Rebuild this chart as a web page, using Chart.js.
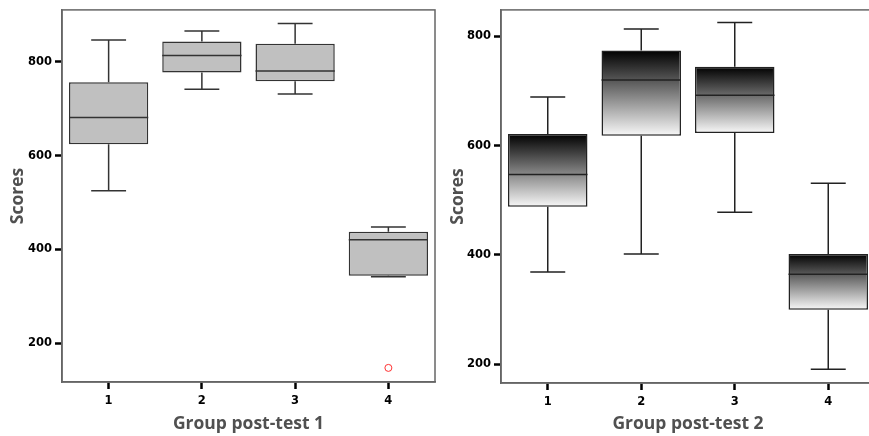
<!DOCTYPE html>
<html>
<head>
<meta charset="utf-8">
<script src="https://cdn.jsdelivr.net/npm/chart.js@4"></script>
<style>
body { margin: 0; background: #fff; width: 869px; height: 436px; overflow: hidden; position: relative; }
#chart1 { position: absolute; left: 0; top: 0; }
#rightWrap { position: absolute; left: 440px; top: 0; width: 429px; height: 436px; overflow: hidden; }
</style>
</head>
<body>
<canvas id="chart1" width="440" height="436"></canvas>
<div id="rightWrap"><canvas id="chart2" width="440" height="436"></canvas></div>
<script>
// Categorías y ticks
const grupos = ['1', '2', '3', '4'];
const yTicks = [200, 400, 600, 800];

// Post-test 1 (min, Q1, mediana, Q3, max)
const min1 = [525, 741, 731, 342];
const q1_1 = [624, 777, 758, 344];
const med1 = [681, 813, 780, 421];
const q3_1 = [756, 843, 838, 438];
const max1 = [846, 865, 881, 448];
const atipicos1 = [null, null, null, 148];

// Post-test 2
const min2 = [369, 402, 478, 191];
const q1_2 = [488, 618, 623, 300];
const med2 = [547, 720, 692, 365];
const q3_2 = [621, 774, 744, 402];
const max2 = [689, 813, 825, 531];
const atipicos2 = [null, null, null, null];

// Bigotes, medianas y marco del área
const bigotes = {
    id: 'bigotes',
    afterDatasetsDraw(chart, args, opts) {
        const { ctx } = chart;
        const y = chart.scales.y;
        const meta = chart.getDatasetMeta(0);
        ctx.save();
        ctx.strokeStyle = opts.color;
        ctx.lineWidth = opts.width;
        meta.data.forEach((bar, i) => {
            const x = bar.x, w = bar.width, cap = w * 0.44;
            const yMin = y.getPixelForValue(opts.min[i]);
            const yQ1 = y.getPixelForValue(opts.q1[i]);
            const yMed = y.getPixelForValue(opts.med[i]);
            const yQ3 = y.getPixelForValue(opts.q3[i]);
            const yMax = y.getPixelForValue(opts.max[i]);
            ctx.beginPath();
            ctx.moveTo(x, yQ3); ctx.lineTo(x, yMax);
            ctx.moveTo(x - cap / 2, yMax); ctx.lineTo(x + cap / 2, yMax);
            ctx.moveTo(x, yQ1); ctx.lineTo(x, yMin);
            ctx.moveTo(x - cap / 2, yMin); ctx.lineTo(x + cap / 2, yMin);
            ctx.moveTo(x - w / 2, yMed); ctx.lineTo(x + w / 2, yMed);
            ctx.stroke();
        });
        const a = chart.chartArea;
        ctx.strokeStyle = '#666';
        ctx.lineWidth = 1.5;
        ctx.strokeRect(a.left, a.top, a.right - a.left, a.bottom - a.top);
        ctx.restore();
    }
};

function crearGrafico(id, cfg) {
    const ctx = document.getElementById(id);
    new Chart(ctx.getContext('2d'), {
        data: {
            labels: grupos,
            datasets: [{
                type: 'bar',
                data: cfg.q1.map((v, i) => [v, cfg.q3[i]]),
                backgroundColor: cfg.relleno,
                borderColor: cfg.linea,
                borderWidth: 1.5,
                borderSkipped: false,
                barPercentage: 0.85,
                categoryPercentage: 1
            }, {
                type: 'line',
                data: cfg.atipicos,
                showLine: false,
                pointRadius: 3.5,
                pointBorderWidth: 1,
                pointBorderColor: '#ff3030',
                pointBackgroundColor: 'rgba(255,255,255,0)'
            }]
        },
        options: {
            responsive: false,
            animation: false,
            layout: { padding: { top: cfg.top, right: 3, left: 0, bottom: 0 } },
            plugins: {
                legend: { display: false },
                tooltip: { enabled: false },
                bigotes: {
                    color: cfg.linea, width: 1.5,
                    min: cfg.min, q1: cfg.q1, med: cfg.med, q3: cfg.q3, max: cfg.max
                }
            },
            scales: {
                x: {
                    afterFit: s => { s.height = cfg.altoX; },
                    grid: { offset: false, drawOnChartArea: false, tickLength: 7, tickWidth: 2.5, tickColor: '#000' },
                    border: { color: '#666', width: 1.5 },
                    ticks: { color: '#000', padding: 5, font: { family: 'DejaVu Sans', weight: 'bold', size: 11.5 } },
                    title: {
                        display: true, text: cfg.titulo, color: '#505050',
                        font: { family: 'Open Sans', weight: 'bold', size: 17.5 },
                        padding: { bottom: 1 }
                    }
                },
                y: {
                    min: cfg.yMin, max: cfg.yMax,
                    afterBuildTicks: s => { s.ticks = yTicks.map(v => ({ value: v })); },
                    afterFit: s => { s.width = cfg.anchoY; },
                    grid: { drawOnChartArea: false, tickLength: 7, tickWidth: 2.5, tickColor: '#000' },
                    border: { color: '#666', width: 1.5 },
                    ticks: { color: '#000', padding: 3, font: { family: 'DejaVu Sans', weight: 'bold', size: 11.5 } },
                    title: {
                        display: true, text: 'Scores', color: '#505050',
                        font: { family: 'Open Sans', weight: 'bold', size: 17.5 },
                        padding: { top: 8 }
                    }
                }
            }
        },
        plugins: [bigotes]
    });
}

// Degradado negro -> blanco para el segundo gráfico
function degradado(q1, q3) {
    return function (c) {
        const y = c.chart.scales.y;
        if (!y || c.type !== 'data') return '#888';
        const top = y.getPixelForValue(q3[c.dataIndex]);
        const bot = y.getPixelForValue(q1[c.dataIndex]);
        if (!isFinite(top) || !isFinite(bot)) return '#888';
        const g = c.chart.ctx.createLinearGradient(0, top, 0, bot);
        g.addColorStop(0, '#000');
        g.addColorStop(1, '#f8f8f8');
        return g;
    };
}

window.addEventListener('DOMContentLoaded', () => {
    crearGrafico('chart1', {
        min: min1, q1: q1_1, med: med1, q3: q3_1, max: max1, atipicos: atipicos1,
        relleno: '#c0c0c0', linea: '#333',
        titulo: 'Group post-test 1', yMin: 118, yMax: 910,
        top: 7, altoX: 54, anchoY: 62
    });
    crearGrafico('chart2', {
        min: min2, q1: q1_2, med: med2, q3: q3_2, max: max2, atipicos: atipicos2,
        relleno: degradado(q1_2, q3_2), linea: '#222',
        titulo: 'Group post-test 2', yMin: 166, yMax: 848,
        top: 8, altoX: 53, anchoY: 61
    });
});
</script>
</body>
</html>
